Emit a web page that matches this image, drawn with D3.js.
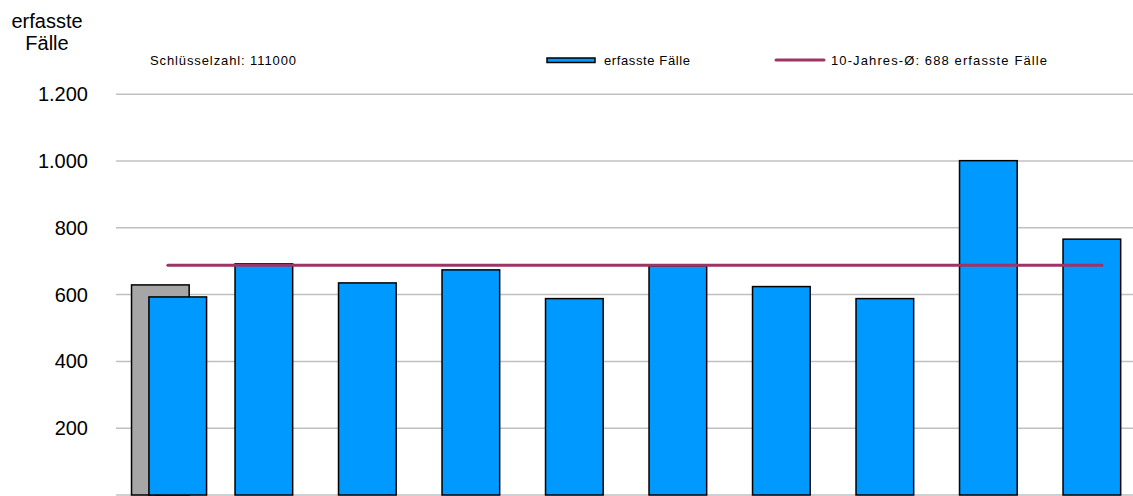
<!DOCTYPE html>
<html>
<head>
<meta charset="utf-8">
<script src="https://cdn.jsdelivr.net/npm/d3@7"></script>
<style>
  html, body { margin: 0; padding: 0; background: #ffffff; }
  svg { display: block; font-family: "Liberation Sans", Arial, sans-serif; }
</style>
</head>
<body>
<svg id="chart" width="1133" height="496"></svg>
<script>
// Recorded cases per year (key number 111000)
const categories = ["2014", "2015", "2016", "2017", "2018", "2019", "2020", "2021", "2022", "2023"];
const cases      = [593, 692, 635, 674, 588, 686, 624, 588, 1001, 766];
// Earlier count shown behind the first year (grey)
const priorCases = [629, null, null, null, null, null, null, null, null, null];
const tenYearAverage = 688;
const yTicks = [0, 200, 400, 600, 800, 1000, 1200];

const svg = d3.select("#chart");
const W = 1133, H = 496;

const de = d3.formatLocale({ decimal: ",", thousands: ".", grouping: [3], currency: ["", " €"] });
const fmt = de.format(",d");

const x = d3.scaleBand()
  .domain(categories)
  .range([108.6, 1143.6])
  .paddingInner(0.443)
  .paddingOuter(0.2215);

const y = d3.scaleLinear().domain([0, 1200]).range([495, 94.2]);

const gridLeft = 116, gridRight = W;

// Horizontal gridlines
svg.append("g").selectAll("line")
  .data(yTicks)
  .join("line")
  .attr("x1", gridLeft).attr("x2", gridRight)
  .attr("y1", d => y(d)).attr("y2", d => y(d))
  .attr("stroke", "#c0c0c0").attr("stroke-width", 1.5);

// Y axis labels
const yAxis = d3.axisLeft(y).tickValues(yTicks.filter(d => d > 0)).tickFormat(fmt).tickSize(0).tickPadding(0);
const yg = svg.append("g").attr("transform", "translate(88,0)").call(yAxis);
yg.select(".domain").remove();
yg.selectAll("text").attr("font-size", 20).attr("fill", "#000").attr("font-family", "Liberation Sans, Arial, sans-serif");

// Axis title
const title = svg.append("text").attr("text-anchor", "middle").attr("font-size", 20).attr("fill", "#000");
title.append("tspan").attr("x", 47).attr("y", 28).text("erfasste");
title.append("tspan").attr("x", 47).attr("y", 50).text("Fälle");

// Key number
svg.append("text").attr("x", 150).attr("y", 64.5).attr("font-size", 13).attr("fill", "#000")
  .attr("textLength", 146).attr("lengthAdjust", "spacing")
  .text("Schlüsselzahl:  111000");

const shift = 17.4; // blue bar offset where a grey bar shares the slot

// Grey bars
svg.append("g").selectAll("rect")
  .data(categories.map((c, i) => ({ c, v: priorCases[i] })).filter(d => d.v != null))
  .join("rect")
  .attr("x", d => x(d.c)).attr("width", x.bandwidth())
  .attr("y", d => y(d.v)).attr("height", d => y(0) - y(d.v))
  .attr("fill", "#a6a6a6").attr("stroke", "#000").attr("stroke-width", 1.5);

// Blue bars
svg.append("g").selectAll("rect")
  .data(categories.map((c, i) => ({ c, v: cases[i], off: priorCases[i] != null ? shift : 0 })))
  .join("rect")
  .attr("x", d => x(d.c) + d.off).attr("width", x.bandwidth())
  .attr("y", d => y(d.v)).attr("height", d => y(0) - y(d.v))
  .attr("fill", "#0099ff").attr("stroke", "#000").attr("stroke-width", 1.5);

// Ten-year average line
const first = categories[0], last = categories[categories.length - 1];
svg.append("line")
  .attr("x1", x(first) + x.bandwidth() / 2 + 7.5)
  .attr("x2", x(last) + x.bandwidth() / 2 + 10)
  .attr("y1", y(tenYearAverage)).attr("y2", y(tenYearAverage))
  .attr("stroke", "#9e3366").attr("stroke-width", 3).attr("stroke-linecap", "round");

// Legend
const lg = svg.append("g");
lg.append("rect").attr("x", 547).attr("y", 58).attr("width", 48).attr("height", 4.5)
  .attr("fill", "#0099ff").attr("stroke", "#000").attr("stroke-width", 1.5);
lg.append("text").attr("x", 604).attr("y", 65).attr("font-size", 13).attr("fill", "#000")
  .attr("textLength", 86).attr("lengthAdjust", "spacing")
  .text("erfasste Fälle");
lg.append("line").attr("x1", 776).attr("x2", 824).attr("y1", 60).attr("y2", 60)
  .attr("stroke", "#9e3366").attr("stroke-width", 3).attr("stroke-linecap", "round");
lg.append("text").attr("x", 831).attr("y", 65).attr("font-size", 13).attr("fill", "#000")
  .attr("textLength", 216).attr("lengthAdjust", "spacing")
  .text("10-Jahres-Ø: " + tenYearAverage + " erfasste Fälle");
</script>
</body>
</html>
